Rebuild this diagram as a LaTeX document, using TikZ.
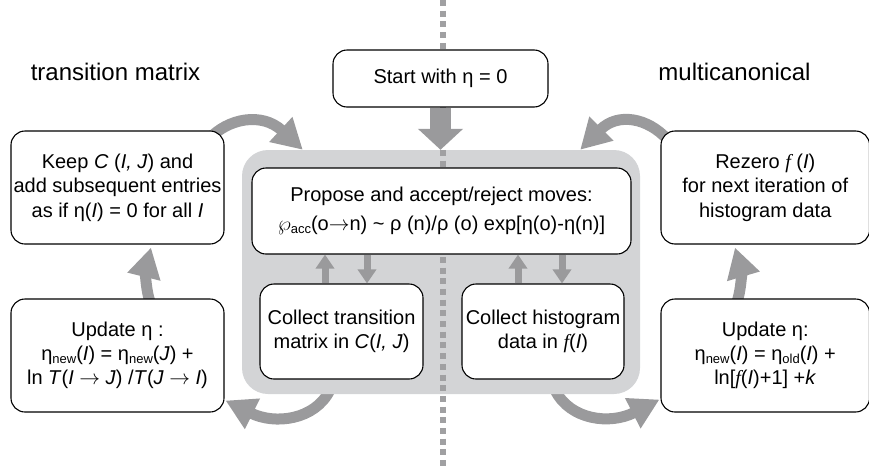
\documentclass[tikz,border=0pt]{standalone}
\usepackage{fontspec}
\setmainfont{Liberation Sans}
\newfontfamily\tmsfont{Liberation Serif}
\usetikzlibrary{arrows.meta,calc}
\definecolor{arrowgray}{HTML}{9A9A9C}
\definecolor{panelgray}{HTML}{D3D4D6}
\definecolor{dotgray}{HTML}{A0A0A2}
\newcommand\lsub[1]{\raisebox{-0.15em}{\fontsize{13}{13}\selectfont #1}}
\newcommand\ff{{\tmsfont\itshape f}}
\newcommand\rarr{\ensuremath{\rightarrow}}
\pgfdeclarelayer{bg}
\pgfsetlayers{bg,main}
\tikzset{
  box/.style={draw=black, line width=1.1pt, rounded corners=14pt, fill=white,
    align=center, inner sep=0pt, font=\fontsize{20}{24.5}\selectfont},
  title/.style={anchor=base, inner sep=0pt, font=\fontsize{24}{28}\selectfont},
  bigcurve/.style={draw=arrowgray, line width=11pt, -{Triangle[length=30pt,width=32pt]}},
  bigdown/.style={draw=arrowgray, line width=21pt, -{Triangle[length=21pt,width=44pt]}},
  smallarr/.style={draw=arrowgray, line width=7pt, -{Triangle[length=14pt,width=18pt]}},
  dotline/.style={draw=dotgray, line width=6pt, dash pattern=on 6pt off 4.7pt}
}
\begin{document}
\begin{tikzpicture}[x=1pt,y=-1pt]
\useasboundingbox (0,0) rectangle (869,466);
% panel
\node[fill=panelgray, rounded corners=26pt, minimum width=398pt, minimum height=244pt, inner sep=0pt] (panel) at (441,272) {};
% dotted divider
\coordinate (dtop) at (443,0);
\coordinate (dbot) at (443,466);
\draw[dotline] (dtop) -- (dbot);
% titles
\node[title] (t1) at (115.5,80) {transition matrix};
\node[title] (t2) at (734.5,80) {multicanonical};
% boxes
\node[box, minimum width=215pt, minimum height=57pt] (start) at (440.5,78.5) {Start with η = 0};
\node[box, minimum width=213pt, minimum height=113pt] (keep) at (117.5,187.5)
  {Keep \textit{C} (\textit{I, J}) and\\ add subsequent entries\\ as if η(\textit{I}) = 0 for all \textit{I}};
\node[box, minimum width=208.5pt, minimum height=113pt] (rezero) at (765.25,187.5)
  {Rezero \ff\ (\textit{I})\\ for next iteration of\\ histogram data};
\node[box, minimum width=213pt, minimum height=113pt, font=\fontsize{20}{24}\selectfont] (updL) at (117.5,355.5)
  {Update η :\\ η\lsub{new}(\textit{I}) = η\lsub{new}(\textit{J}) +\\ ln \textit{T}(\textit{I} \rarr\ \textit{J}) /\textit{T}(\textit{J} \rarr\ \textit{I})};
\node[box, minimum width=208.5pt, minimum height=113pt, font=\fontsize{20}{24}\selectfont] (updR) at (765.25,355.5)
  {Update η:\\ η\lsub{new}(\textit{I}) = η\lsub{old}(\textit{I}) +\\ ln[\ff(\textit{I})+1] +\textit{k}};
\node[box, minimum width=379pt, minimum height=86pt, font=\fontsize{20}{29}\selectfont] (propose) at (441.5,211)
  {Propose and accept/reject moves:\\ $\wp$\lsub{acc}(o\rarr n) \textasciitilde{} ρ (n)/ρ (o) exp[η(o)-η(n)]};
\node[box, minimum width=163pt, minimum height=95pt] (collT) at (341.5,331.5)
  {Collect transition\\ matrix in \textit{C}(\textit{I, J})};
\node[box, minimum width=162pt, minimum height=95pt] (collH) at (543,331.5)
  {Collect histogram\\ data in \ff(\textit{I})};
% straight arrows
\draw[bigdown] (start.south) -- (start.south |- panel.north);
\draw[smallarr] ([xshift=-16.5pt]collT.north) -- ([xshift=-16.5pt]collT.north |- propose.south);
\draw[smallarr] ([xshift=25.5pt]collT.north |- propose.south) -- ([xshift=25.5pt]collT.north);
\draw[smallarr] ([xshift=-25pt]collH.north) -- ([xshift=-25pt]collH.north |- propose.south);
\draw[smallarr] ([xshift=19pt]collH.north |- propose.south) -- ([xshift=19pt]collH.north);
% curved arrows
\begin{pgfonlayer}{bg}
\draw[bigcurve] ($(keep.north east)+(-16,9)$) .. controls (228,118) and (262,112) .. ($(panel.north west)+(61,0)$);
\draw[bigcurve] ($(rezero.north west)+(7,9)$) .. controls (648,118) and (618,112) .. ($(panel.north east)+(-60,0)$);
\draw[bigcurve] ($(updL.north)+(33.5,6)$) .. controls (145,290) and (146,268) .. ($(keep.south)+(33.5,3)$);
\draw[bigcurve] ($(updR.north)+(-29.25,6)$) .. controls (742,290) and (741,268) .. ($(rezero.south)+(-30.25,3)$);
\draw[bigcurve] ($(panel.south west)+(88,-4)$) .. controls (315,420) and (275,425) .. ($(updL.south east)+(1,-12)$);
\draw[bigcurve] ($(panel.south east)+(-85,-4)$) .. controls (570,420) and (610,425) .. ($(updR.south west)+(-1,-13)$);
\end{pgfonlayer}
\end{tikzpicture}
\end{document}
